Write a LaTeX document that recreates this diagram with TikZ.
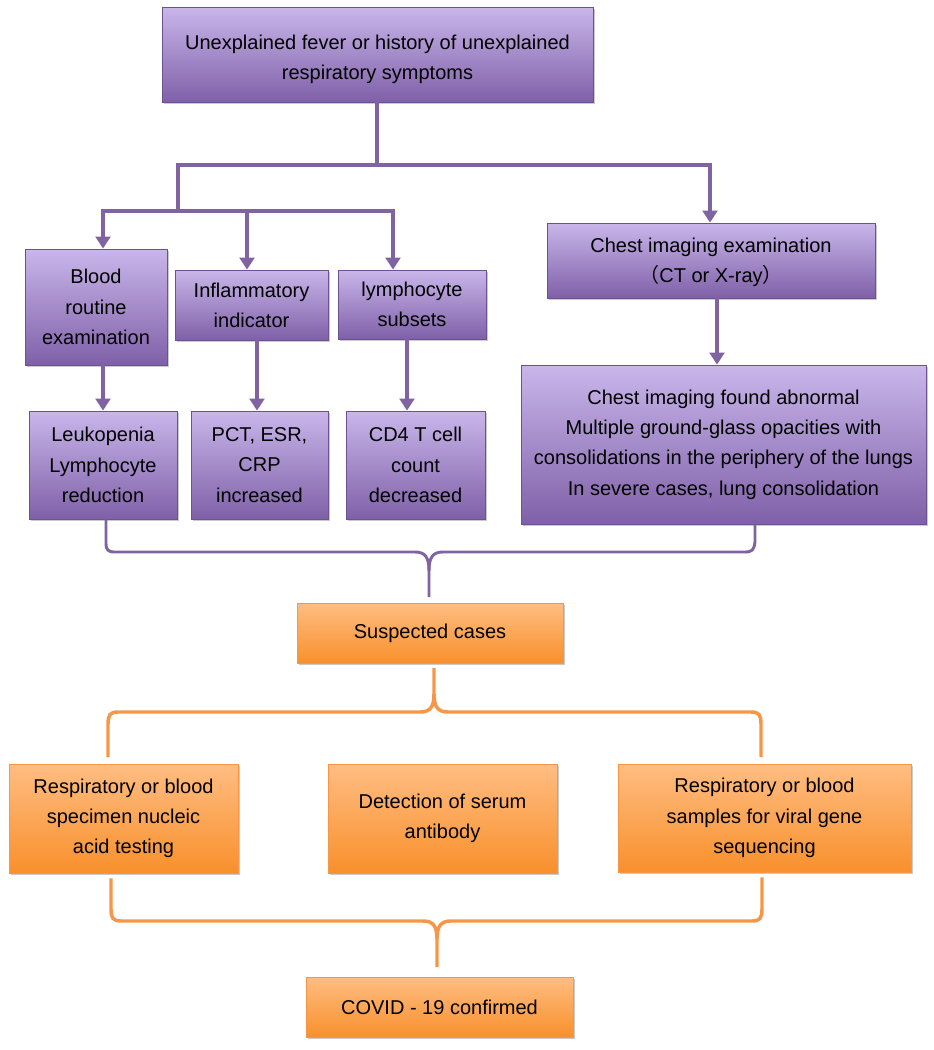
\documentclass[tikz,border=0pt]{standalone}
\usepackage{fontspec}
\setmainfont{Liberation Sans}
\newfontfamily\cjk{Noto Sans CJK SC}
\usetikzlibrary{arrows.meta,shadows,calc}
\definecolor{ptop}{HTML}{C9B6EA}
\definecolor{pbot}{HTML}{7F60A8}
\definecolor{pline}{HTML}{8064A2}
\definecolor{otop}{HTML}{FFBD82}
\definecolor{obot}{HTML}{F8902C}
\definecolor{oline}{HTML}{F79646}
\tikzset{
  boxbase/.style={inner sep=0pt, align=center, font=\fontsize{15}{22.7}\selectfont,
    drop shadow={shadow xshift=1.2pt, shadow yshift=-1.8pt, opacity=0.35, fill=black!60}},
  pbox/.style={boxbase, draw=pbot!85!black, line width=0.6pt, top color=ptop, bottom color=pbot},
  obox/.style={boxbase, draw=oline, line width=0.6pt, top color=otop, bottom color=obot},
  parrow/.style={draw=pline, line width=3pt, -{Triangle[width=11pt,length=9pt]}},
  plink/.style={draw=pline, line width=3pt},
  pbrace/.style={draw=pline, line width=2.2pt},
  obrace/.style={draw=oline, line width=2.6pt},
}
\begin{document}
\begin{tikzpicture}[x=0.75pt,y=-0.75pt]
\useasboundingbox (0,0) rectangle (933,1050);

% purple boxes
\node[pbox, minimum width=323.25pt, minimum height=71.25pt] (top) at (377.5,54.5)
  {\rule{0pt}{18pt}Unexplained fever or history of unexplained\\respiratory symptoms};
\node[pbox, minimum width=106.5pt, minimum height=87pt] (blood) at (96,307)
  {Blood\\routine\\examination};
\node[pbox, minimum width=114.75pt, minimum height=52.5pt] (inflam) at (251.5,305)
  {Inflammatory\\indicator};
\node[pbox, minimum width=111pt, minimum height=51.75pt] (lymph) at (412,304.5)
  {lymphocyte\\subsets};
\node[pbox, minimum width=246pt, minimum height=56.25pt] (chest1) at (711,260.5)
  {\rule{0pt}{14pt}Chest imaging examination\\{\cjk （}CT or X-ray{\cjk ）}};
\node[pbox, minimum width=111pt, minimum height=81pt] (leuk) at (103,465)
  {Leukopenia\\Lymphocyte\\reduction};
\node[pbox, minimum width=102.75pt, minimum height=81pt] (pct) at (259.5,465)
  {PCT, ESR,\\CRP\\increased};
\node[pbox, minimum width=104.25pt, minimum height=81pt] (cd4) at (415.5,465)
  {CD4 T cell\\count\\decreased};
\node[pbox, minimum width=303.75pt, minimum height=119.25pt] (chest2) at (723.5,444.5)
  {Chest imaging found abnormal\\Multiple ground-glass opacities with\\consolidations in the periphery of the lungs\\In severe cases, lung consolidation};

% orange boxes
\node[obox, minimum width=199.5pt, minimum height=45pt] (susp) at (430,633) {Suspected cases};
\node[obox, minimum width=171.75pt, minimum height=81.75pt] (nucl) at (123.5,818.5)
  {Respiratory or blood\\specimen nucleic\\acid testing};
\node[obox, minimum width=171.75pt, minimum height=81.75pt] (anti) at (442.5,818.5)
  {Detection of serum\\antibody};
\node[obox, minimum width=219.75pt, minimum height=81pt] (seq) at (764.5,818)
  {Respiratory or blood\\samples for viral gene\\sequencing};
\node[obox, minimum width=200.25pt, minimum height=45pt] (covid) at (439.5,1007) {COVID - 19 confirmed};

% top connectors
\coordinate (j0) at (377,165);
\coordinate (jl) at (178,165);
\coordinate (jr) at (710,165);
\coordinate (j1) at (178,211);
\coordinate (ja) at (103,211);
\coordinate (jb) at (247,211);
\coordinate (jc) at (393,211);
\draw[plink] (top.south -| j0) -- (j0);
\draw[parrow] (j1) -- (jl) -- (jr) -- (jr |- chest1.north);
\draw[parrow, {Triangle[width=11pt,length=9pt]}-{Triangle[width=11pt,length=9pt]}]
  (ja |- blood.north) -- (ja) -- (jc) -- (jc |- lymph.north);
\draw[parrow] (jb) -- (jb |- inflam.north);

% second-level arrows
\draw[parrow] (103,0 |- blood.south) -- (103,0 |- leuk.north);
\draw[parrow] (257,0 |- inflam.south) -- (257,0 |- pct.north);
\draw[parrow] (407,0 |- lymph.south) -- (407,0 |- cd4.north);
\draw[parrow] (717,0 |- chest1.south) -- (717,0 |- chest2.north);

% purple brace
\coordinate (pbl) at (106,552);
\coordinate (pbr) at (755,552);
\coordinate (pbm) at (429,597);
\draw[pbrace] (pbl |- leuk.south) -- (106,543) .. controls (106,550) and (108,552) .. (115,552)
  -- (415,552) .. controls (425,552) and (429,557) .. (429,571) -- (pbm);
\draw[pbrace] (pbr |- chest2.south) -- (755,542) .. controls (754,550) and (752,552) .. (745,552)
  -- (443,552) .. controls (433,552) and (429,557) .. (429,571);

% orange brace 1
\coordinate (ob1l) at (108,712);
\coordinate (ob1r) at (761,712);
\coordinate (ob1m) at (434,668);
\draw[obrace] (108,757) -- (108,724) .. controls (108,715) and (110,712) .. (118,712)
  -- (420,712) .. controls (430,712) and (434,707) .. (434,694) -- (ob1m);
\draw[obrace] (761,757) -- (761,724) .. controls (761,715) and (759,712) .. (751,712)
  -- (448,712) .. controls (438,712) and (434,707) .. (434,694);

% orange brace 2
\coordinate (ob2l) at (111,921);
\coordinate (ob2r) at (762,921);
\coordinate (ob2m) at (437,967);
\draw[obrace] (ob2l |- nucl.south) ++(0,5) -- (111,909) .. controls (111,918) and (113,921) .. (121,921)
  -- (423,921) .. controls (433,921) and (437,926) .. (437,939) -- (ob2m);
\draw[obrace] (ob2r |- seq.south) ++(0,5) -- (762,909) .. controls (762,918) and (760,921) .. (752,921)
  -- (451,921) .. controls (441,921) and (437,926) .. (437,939);
\end{tikzpicture}
\end{document}
